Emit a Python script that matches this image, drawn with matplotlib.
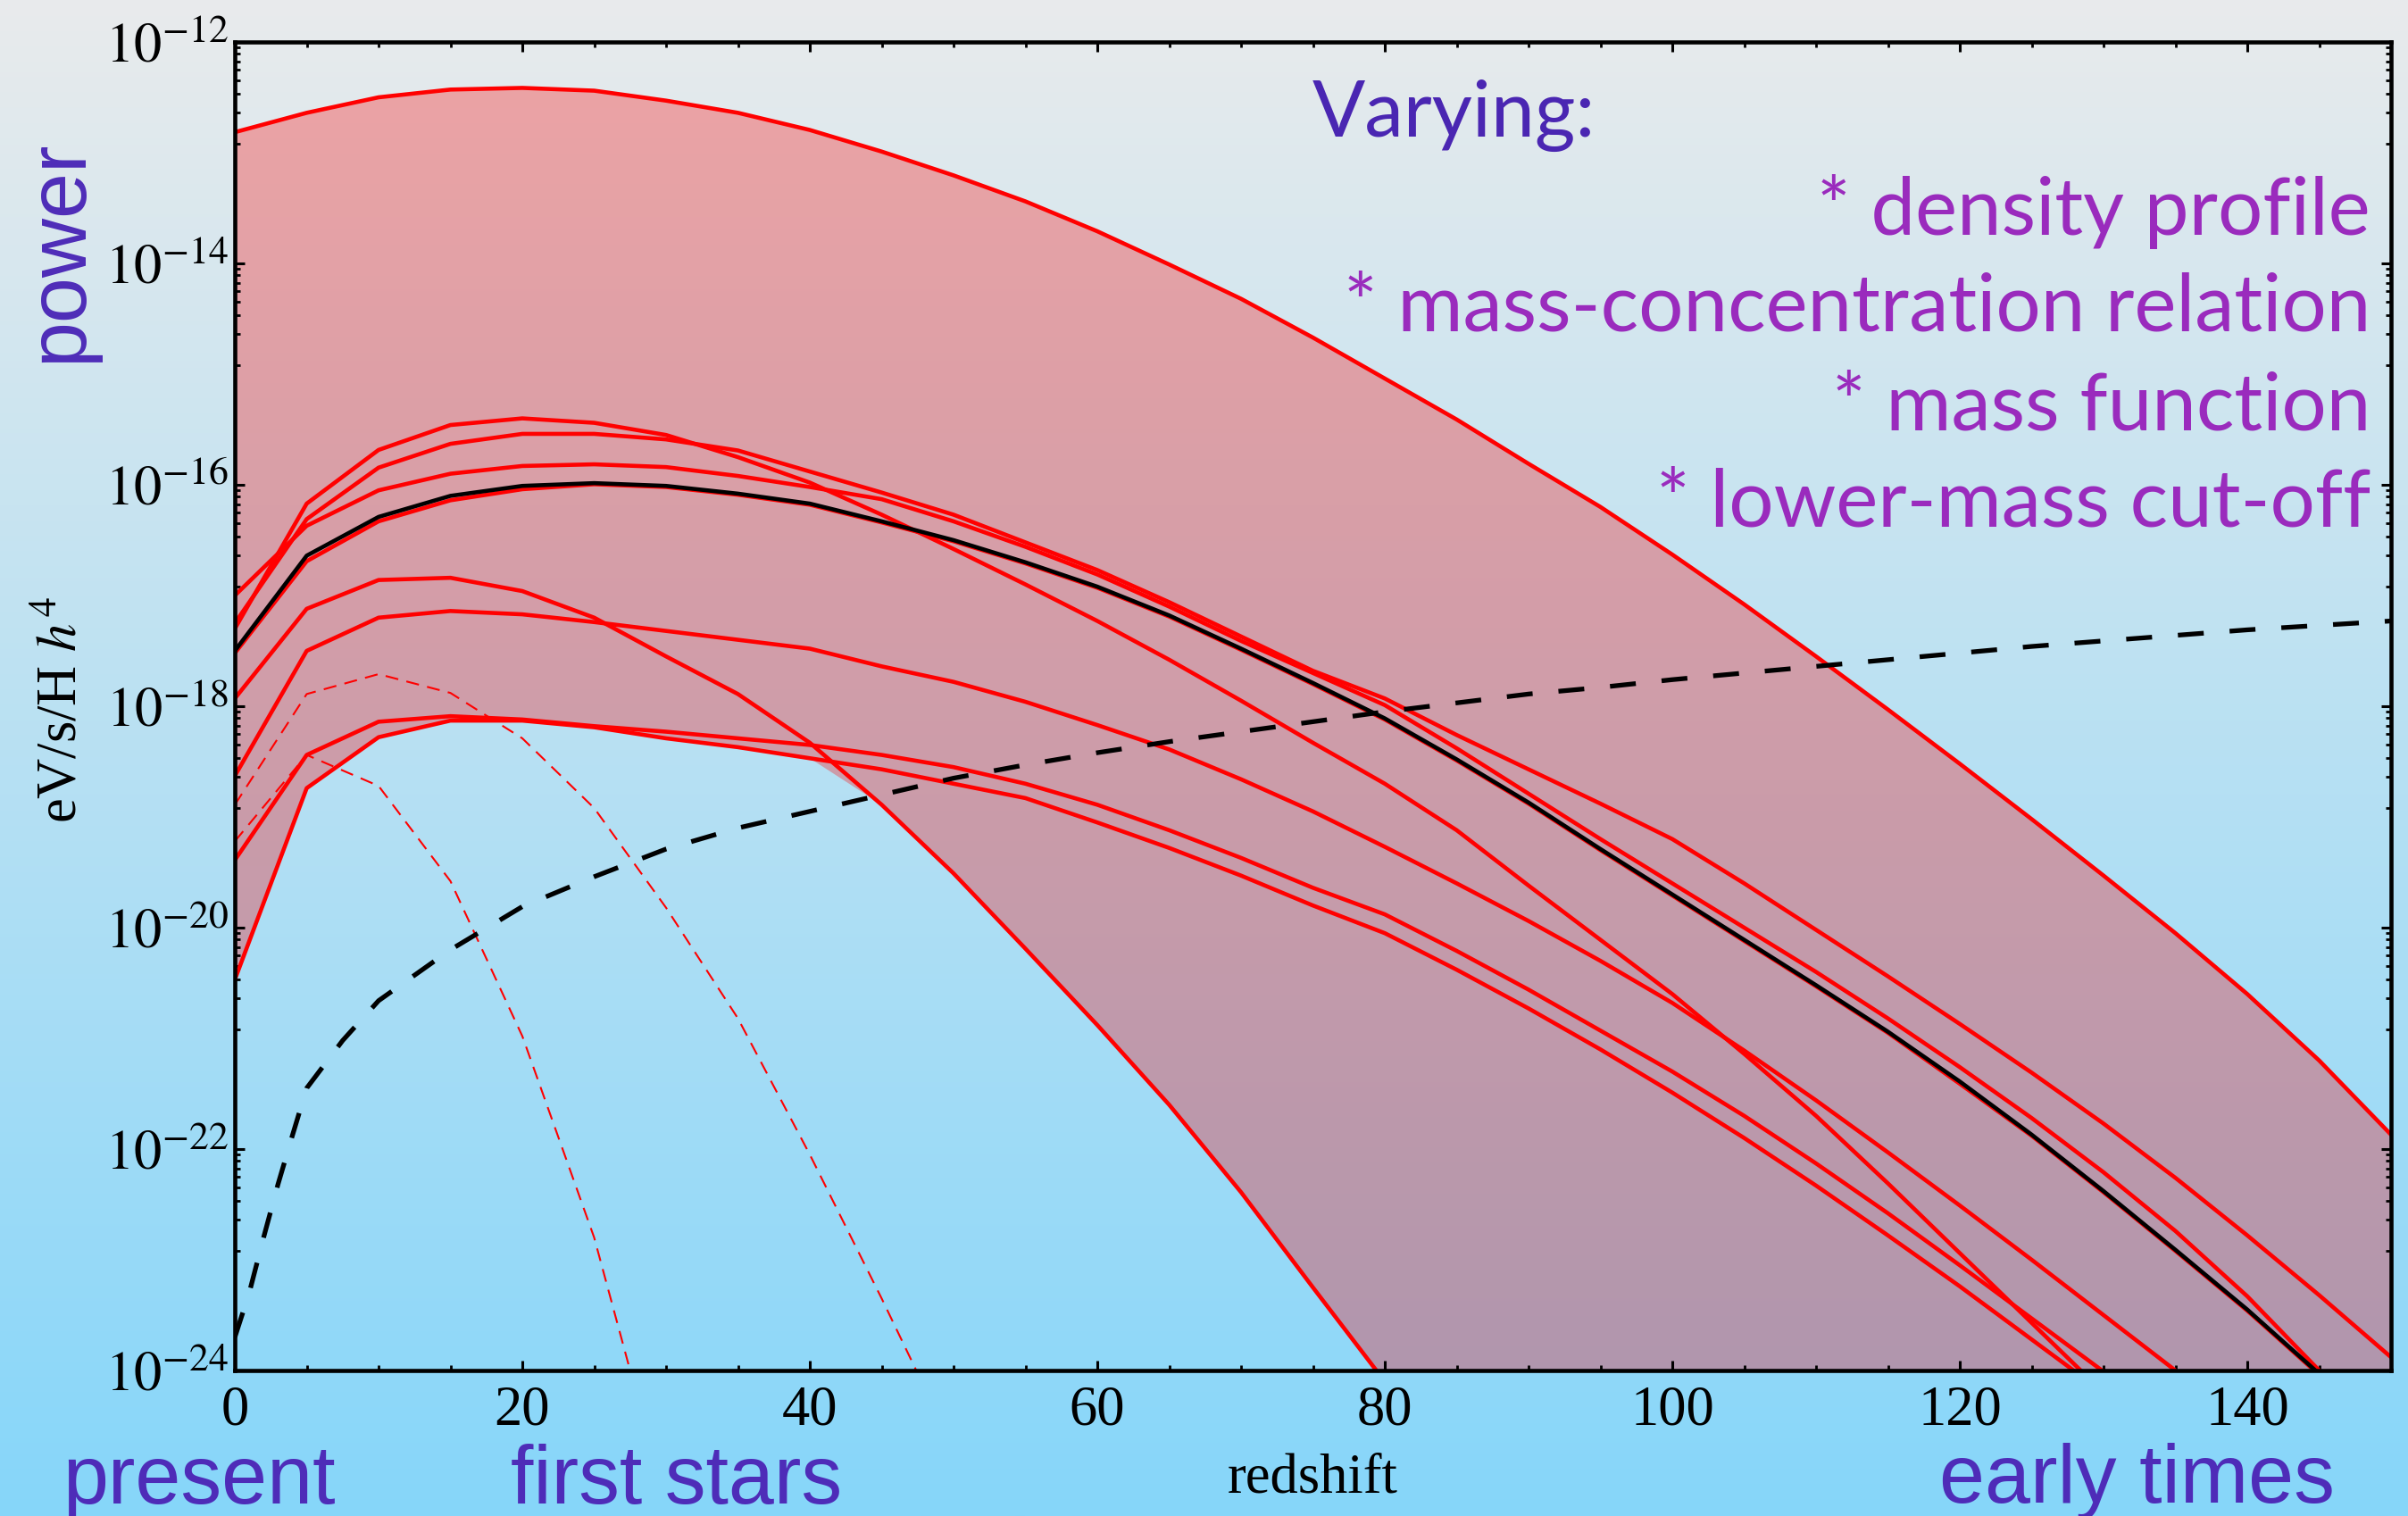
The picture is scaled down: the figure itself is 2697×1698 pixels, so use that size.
import numpy as np
import matplotlib
matplotlib.use("Agg")
import matplotlib.pyplot as plt
from matplotlib.ticker import FixedLocator, FixedFormatter, NullFormatter

plt.rcParams['mathtext.fontset'] = 'stix'
plt.rcParams['font.family'] = ['Liberation Serif', 'DejaVu Serif']

# ---------------- data (log10 of eV/s/H h^4) ----------------
redshift = [0, 5, 10, 15, 20, 25, 30, 35, 40, 45, 50, 55, 60, 65, 70, 75,
            80, 85, 90, 95, 100, 105, 110, 115, 120, 125, 130, 135, 140, 145, 150]

upper_envelope = [-12.815, -12.64, -12.50, -12.43, -12.415, -12.44, -12.53, -12.64,
                  -12.795, -12.99, -13.205, -13.44, -13.71, -14.01, -14.32, -14.67,
                  -15.04, -15.41, -15.81, -16.20, -16.63, -17.08, -17.55, -18.03,
                  -18.52, -19.02, -19.53, -20.05, -20.60, -21.20, -21.87]

curve_a = [-17.30, -16.17, -15.685, -15.46, -15.40, -15.44, -15.55, -15.75, -15.98,
           -16.27, -16.58, -16.90, -17.23, -17.58, -17.95, -18.33, -18.70, -19.12,
           -19.62, -20.11, -20.60, -21.14, -21.70, -22.31, -22.94, -23.57, -24.2]

curve_b = [-17.25, -16.31, -15.845, -15.63, -15.54, -15.54, -15.59, -15.69, -15.88,
           -16.07, -16.27, -16.52, -16.77, -17.06, -17.37, -17.68, -17.93, -18.26,
           -18.57, -18.88, -19.20, -19.60, -20.02, -20.44, -20.87, -21.31, -21.77,
           -22.26, -22.78, -23.32, -23.88]

curve_c = [-17.0, -16.37, -16.05, -15.90, -15.83, -15.815, -15.84, -15.92, -16.02,
           -16.13, -16.33, -16.56, -16.81, -17.10, -17.41, -17.70, -17.99, -18.38,
           -18.79, -19.20, -19.60, -20.00, -20.40, -20.82, -21.26, -21.72, -22.21,
           -22.74, -23.33, -24.0]

curve_d = [-17.52, -16.69, -16.33, -16.14, -16.04, -15.995, -16.02, -16.09, -16.18,
           -16.34, -16.51, -16.71, -16.93, -17.19, -17.49, -17.80, -18.12, -18.49,
           -18.88, -19.30, -19.71, -20.12, -20.53, -20.95, -21.41, -21.88, -22.39,
           -22.92, -23.46, -24.04]

curve_e = [-17.93, -17.12, -16.86, -16.84, -16.96, -17.20, -17.55, -17.89, -18.33,
           -18.89, -19.51, -20.19, -20.88, -21.60, -22.39, -23.25, -24.1]

curve_f = [-18.63, -17.50, -17.20, -17.14, -17.17, -17.24, -17.32, -17.40, -17.48,
           -17.64, -17.78, -17.96, -18.17, -18.39, -18.66, -18.95, -19.27, -19.60,
           -19.94, -20.30, -20.68, -21.11, -21.56, -22.03, -22.51, -23.00, -23.50, -24.0]

curve_g = [-19.39, -18.44, -18.14, -18.09, -18.12, -18.18, -18.23, -18.29, -18.35,
           -18.44, -18.55, -18.70, -18.89, -19.12, -19.37, -19.64, -19.88, -20.21,
           -20.56, -20.93, -21.30, -21.70, -22.13, -22.58, -23.05, -23.53, -24.01]

curve_h = [-20.47, -18.74, -18.28, -18.13, -18.13, -18.19, -18.29, -18.37, -18.47,
           -18.57, -18.70, -18.83, -19.05, -19.28, -19.53, -19.80, -20.05, -20.38,
           -20.73, -21.10, -21.49, -21.90, -22.33, -22.78, -23.24, -23.72, -24.2]

fiducial = [-17.5, -16.64, -16.29, -16.10, -16.01, -15.985, -16.01, -16.08, -16.17,
            -16.33, -16.50, -16.70, -16.92, -17.18, -17.48, -17.79, -18.11, -18.48,
            -18.87, -19.29, -19.70, -20.11, -20.52, -20.94, -21.39, -21.87, -22.38,
            -22.91, -23.45, -24.03]

dashed_1 = [-18.89, -17.89, -17.71, -17.88, -18.29, -18.92, -19.82, -20.82, -22.05,
            -23.35, -24.7]
dashed_2 = [-19.22, -18.44, -18.72, -19.58, -20.98, -22.80, -25.2]

background_z = [0, 1, 2, 3, 4, 5, 7.5, 10, 15, 20, 25, 30, 35, 40, 45, 50, 55, 60,
                65, 70, 75, 80, 85, 90, 95, 100, 105, 110, 115, 120, 125, 130, 135,
                140, 145, 150]
background = [-23.7, -23.3, -22.8, -22.32, -21.88, -21.45, -21.02, -20.66, -20.20,
              -19.81, -19.54, -19.29, -19.10, -18.95, -18.80, -18.65, -18.53, -18.42,
              -18.32, -18.23, -18.14, -18.05, -17.97, -17.89, -17.83, -17.76, -17.70,
              -17.64, -17.58, -17.52, -17.46, -17.41, -17.36, -17.31, -17.27, -17.23]

xticks_major = [0, 20, 40, 60, 80, 100, 120, 140]
ytick_exps = [-12, -14, -16, -18, -20, -22, -24]
ytick_labels = [r'$10^{-12}$', r'$10^{-14}$', r'$10^{-16}$', r'$10^{-18}$',
                r'$10^{-20}$', r'$10^{-22}$', r'$10^{-24}$']

# ---------------- figure ----------------
W, H = 2697, 1699
fig = plt.figure(figsize=(W / 100, H / 100), dpi=100)

bg = fig.add_axes([0, 0, 1, 1])
top_col = np.array([233, 235, 236]) / 255.0
bot_col = np.array([134, 214, 250]) / 255.0
t = np.linspace(0, 1, 600)[:, None, None]
grad = top_col[None, None, :] * (1 - t) + bot_col[None, None, :] * t
bg.imshow(grad, aspect='auto', extent=[0, 1, 0, 1], origin='upper')
bg.set_axis_off()

L, R, T, B = 263, 2678, 48, 1536
ax = fig.add_axes([L / W, 1 - B / H, (R - L) / W, (B - T) / H])
ax.patch.set_visible(False)

z = np.array(redshift, dtype=float)


def vals(a):
    return 10.0 ** np.array(a, dtype=float)


solid = [curve_a, curve_b, curve_c, curve_d, curve_e, curve_f, curve_g, curve_h, fiducial]
padded = np.full((len(solid), len(z)), -30.0)
for i, c in enumerate(solid):
    padded[i, :len(c)] = c
lower = padded.min(axis=0)

ax.fill_between(z, vals(upper_envelope), 10.0 ** lower, color='red', alpha=0.3,
                linewidth=0, zorder=1)

red_lw = 3.3
ax.plot(z, vals(upper_envelope), color='red', lw=red_lw, zorder=2)
for c in [curve_a, curve_b, curve_c, curve_d, curve_e, curve_f, curve_g, curve_h]:
    ax.plot(z[:len(c)], vals(c), color='red', lw=red_lw, zorder=2)
for c in [dashed_1, dashed_2]:
    ax.plot(z[:len(c)], vals(c), color='red', lw=1.5, ls=(0, (7, 4.5)), zorder=2)
ax.plot(z[:len(fiducial)], vals(fiducial), color='black', lw=red_lw, zorder=3)
ax.plot(background_z, vals(background), color='black', lw=3.8,
        ls=(0, (5.5, 5.5)), zorder=4)

ax.set_xlim(0, 150)
ax.set_yscale('log')
ax.set_ylim(1e-24, 1e-12)

# ticks
ax.xaxis.set_major_locator(FixedLocator(xticks_major))
ax.xaxis.set_minor_locator(FixedLocator(np.arange(0, 151, 5)))
ymaj = [10.0 ** e for e in ytick_exps]
ax.yaxis.set_major_locator(FixedLocator(ymaj))
ax.yaxis.set_major_formatter(FixedFormatter(ytick_labels))
yminor = []
for n in range(-12, -23, -2):
    hi, lo = 10.0 ** n, 10.0 ** (n - 2)
    for k in range(1, 9):
        yminor.append(lo + k * (hi - lo) / 9)
ax.yaxis.set_minor_locator(FixedLocator(yminor))
ax.yaxis.set_minor_formatter(NullFormatter())
ax.xaxis.set_minor_formatter(NullFormatter())

ax.tick_params(axis='both', which='major', direction='in', length=8, width=2.2,
               top=True, right=True, labelsize=45, colors='black')
ax.tick_params(axis='both', which='minor', direction='in', length=4.5, width=2,
               top=True, right=True)
ax.tick_params(axis='x', which='major', pad=11)
ax.tick_params(axis='y', which='major', pad=5)
for s in ax.spines.values():
    s.set_linewidth(3.3)
    s.set_zorder(10)


def fx(px):
    return px / W


def fy(py):
    return 1 - py / H


# axis labels
fig.text(fx(1470), fy(1672), 'redshift', ha='center', va='baseline', fontsize=45,
         family=['Liberation Serif'])
fig.text(fx(86), fy(795), r'eV/s/H $h^4$', ha='center', va='baseline', fontsize=45,
         rotation=90, rotation_mode='anchor', family=['Liberation Serif'])

# annotations
purple = '#4e2cb8'
sans = ['Liberation Sans', 'DejaVu Sans']
fig.text(fx(91), fy(281), 'power', ha='center', va='baseline', fontsize=66,
         rotation=90, rotation_mode='anchor', color=purple, family=sans)
fig.text(fx(70), fy(1684), 'present', ha='left', va='baseline', fontsize=66,
         color=purple, family=sans)
fig.text(fx(572), fy(1684), 'first stars', ha='left', va='baseline', fontsize=66,
         color=purple, family=sans)
fig.text(fx(2172), fy(1683), 'early times', ha='left', va='baseline', fontsize=66,
         color=purple, family=sans)

gill = ['Lato', 'DejaVu Sans']
fig.text(fx(1470), fy(153), 'Varying:', ha='left', va='baseline', fontsize=63,
         color='#4a26b2', family=gill)
items = ['* density profile', '* mass-concentration relation', '* mass function',
         '* lower-mass cut-off']
item_baselines = [263, 371, 481, 589]
for txt, yb in zip(items, item_baselines):
    fig.text(fx(2655), fy(yb), txt, ha='right', va='baseline', fontsize=64,
             color='#9a2bbd', family=gill)

fig.savefig('out.png', dpi=100)
